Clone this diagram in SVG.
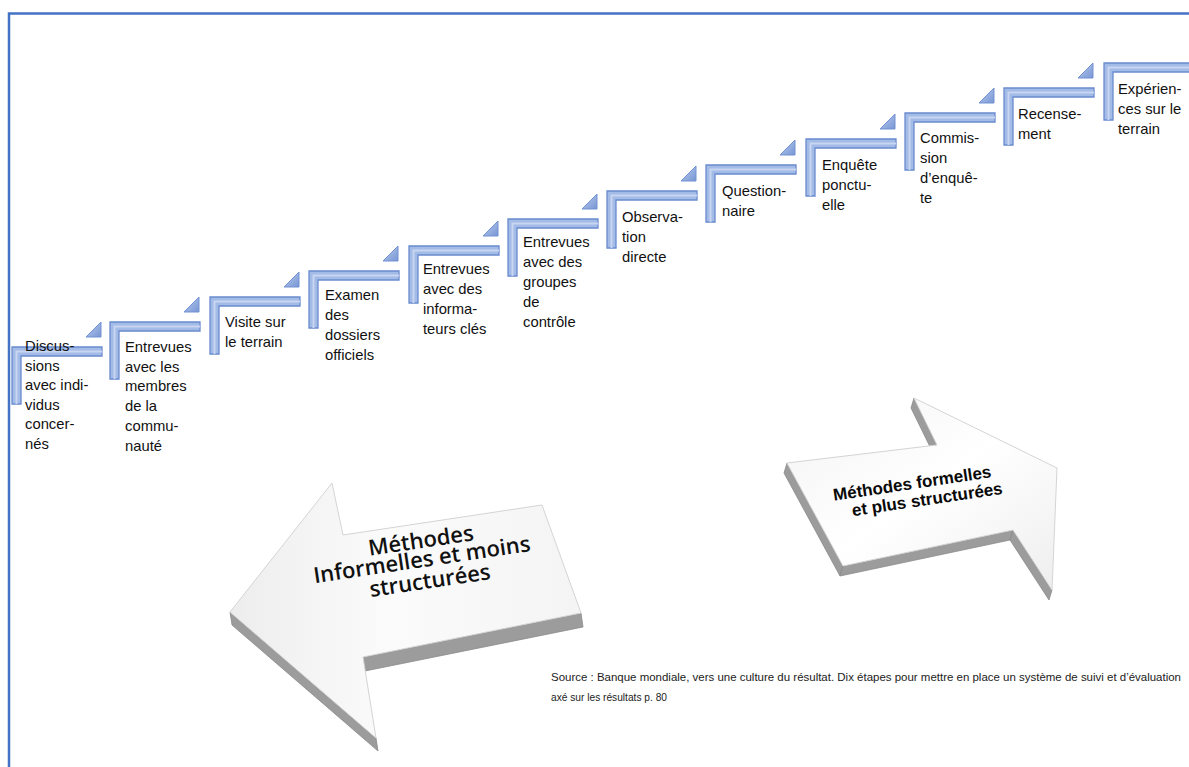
<svg xmlns="http://www.w3.org/2000/svg" xmlns:xlink="http://www.w3.org/1999/xlink" width="1189" height="767" viewBox="0 0 1189 767">
<defs>
<style>
.lbl{font-family:"Liberation Sans",Arial,sans-serif;font-size:14.8px;fill:#111111;}
.frame{stroke:#4472C4;stroke-width:2.5;fill:none;}
.br{fill:#A3BBE7;stroke:#6A8BCE;stroke-width:1.3;}
.brh{fill:none;stroke:#C8D6F2;stroke-width:2;}
.tri{fill:url(#triG);stroke:#7191D1;stroke-width:1;}
.src{font-family:"Liberation Sans",Arial,sans-serif;font-size:11px;fill:#222222;}
.big{font-family:"Open Sans","Liberation Sans",sans-serif;font-weight:600;font-size:22px;fill:#111111;text-anchor:middle;}
.big2{font-family:"Liberation Sans",Arial,sans-serif;font-weight:bold;font-size:17px;fill:#0A0A0A;text-anchor:middle;}
.ext{fill:#9C9C9C;stroke:#8A8A8A;stroke-width:0.8;stroke-linejoin:round;}
.face{stroke:#D4D4D4;stroke-width:1;stroke-linejoin:round;}
</style>
<linearGradient id="triG" x1="0" y1="0" x2="1" y2="1">
<stop offset="0" stop-color="#BCCEF0"/><stop offset="1" stop-color="#7896D4"/>
</linearGradient>
<linearGradient id="faceL" x1="0" y1="0" x2="1" y2="0">
<stop offset="0" stop-color="#EDEDED"/><stop offset="0.45" stop-color="#FBFBFB"/><stop offset="1" stop-color="#F4F4F4"/>
</linearGradient>
<linearGradient id="faceR" x1="0" y1="0" x2="1" y2="1">
<stop offset="0" stop-color="#F3F3F3"/><stop offset="0.5" stop-color="#FFFFFF"/><stop offset="1" stop-color="#EEEEEE"/>
</linearGradient>
<path id="bracket" class="br" d="M0,0 H90 V9 H9 V57 H0 Z"/>
<path id="bracketHi" class="brh" d="M4.5,57 V4.5 H90"/>
<polygon id="tri" class="tri" points="89,-25 89,-10 74,-10"/>
</defs>

<rect x="0" y="0" width="1189" height="767" fill="#FFFFFF"/>
<path class="frame" d="M9,767 V13.5 H1189"/>

<g id="step1">
<use xlink:href="#bracket" x="12" y="347"/><use xlink:href="#bracketHi" x="12" y="347"/><use xlink:href="#tri" x="12" y="347"/>
<text class="lbl" x="25" y="351"><tspan x="25">Discus-</tspan><tspan x="25" dy="19.6">sions</tspan><tspan x="25" dy="19.6">avec indi-</tspan><tspan x="25" dy="19.6">vidus</tspan><tspan x="25" dy="19.6">concer-</tspan><tspan x="25" dy="19.6">nés</tspan></text>
</g>
<g id="step2">
<use xlink:href="#bracket" x="110" y="322"/><use xlink:href="#bracketHi" x="110" y="322"/><use xlink:href="#tri" x="110" y="322"/>
<text class="lbl" x="125" y="352"><tspan x="125">Entrevues</tspan><tspan x="125" dy="19.7">avec les</tspan><tspan x="125" dy="19.7">membres</tspan><tspan x="125" dy="19.7">de la</tspan><tspan x="125" dy="19.7">commu-</tspan><tspan x="125" dy="19.7">nauté</tspan></text>
</g>
<g id="step3">
<use xlink:href="#bracket" x="210" y="297"/><use xlink:href="#bracketHi" x="210" y="297"/><use xlink:href="#tri" x="210" y="297"/>
<text class="lbl" x="225" y="327"><tspan x="225">Visite sur</tspan><tspan x="225" dy="20">le terrain</tspan></text>
</g>
<g id="step4">
<use xlink:href="#bracket" x="309" y="271"/><use xlink:href="#bracketHi" x="309" y="271"/><use xlink:href="#tri" x="309" y="271"/>
<text class="lbl" x="325" y="300"><tspan x="325">Examen</tspan><tspan x="325" dy="20">des</tspan><tspan x="325" dy="20">dossiers</tspan><tspan x="325" dy="20">officiels</tspan></text>
</g>
<g id="step5">
<use xlink:href="#bracket" x="409" y="246"/><use xlink:href="#bracketHi" x="409" y="246"/><use xlink:href="#tri" x="409" y="246"/>
<text class="lbl" x="423" y="274"><tspan x="423">Entrevues</tspan><tspan x="423" dy="20">avec des</tspan><tspan x="423" dy="20">informa-</tspan><tspan x="423" dy="20">teurs clés</tspan></text>
</g>
<g id="step6">
<use xlink:href="#bracket" x="508" y="219"/><use xlink:href="#bracketHi" x="508" y="219"/><use xlink:href="#tri" x="508" y="219"/>
<text class="lbl" x="523" y="247"><tspan x="523">Entrevues</tspan><tspan x="523" dy="20">avec des</tspan><tspan x="523" dy="20">groupes</tspan><tspan x="523" dy="20">de</tspan><tspan x="523" dy="20">contrôle</tspan></text>
</g>
<g id="step7">
<use xlink:href="#bracket" x="607" y="191"/><use xlink:href="#bracketHi" x="607" y="191"/><use xlink:href="#tri" x="607" y="191"/>
<text class="lbl" x="622" y="222"><tspan x="622">Observa-</tspan><tspan x="622" dy="20">tion</tspan><tspan x="622" dy="20">directe</tspan></text>
</g>
<g id="step8">
<use xlink:href="#bracket" x="706" y="165"/><use xlink:href="#bracketHi" x="706" y="165"/><use xlink:href="#tri" x="706" y="165"/>
<text class="lbl" x="722" y="196"><tspan x="722">Question-</tspan><tspan x="722" dy="20">naire</tspan></text>
</g>
<g id="step9">
<use xlink:href="#bracket" x="806" y="139"/><use xlink:href="#bracketHi" x="806" y="139"/><use xlink:href="#tri" x="806" y="139"/>
<text class="lbl" x="822" y="170"><tspan x="822">Enquête</tspan><tspan x="822" dy="20">ponctu-</tspan><tspan x="822" dy="20">elle</tspan></text>
</g>
<g id="step10">
<use xlink:href="#bracket" x="905" y="113"/><use xlink:href="#bracketHi" x="905" y="113"/><use xlink:href="#tri" x="905" y="113"/>
<text class="lbl" x="920" y="143"><tspan x="920">Commis-</tspan><tspan x="920" dy="20">sion</tspan><tspan x="920" dy="20">d’enquê-</tspan><tspan x="920" dy="20">te</tspan></text>
</g>
<g id="step11">
<use xlink:href="#bracket" x="1004" y="88"/><use xlink:href="#bracketHi" x="1004" y="88"/><use xlink:href="#tri" x="1004" y="88"/>
<text class="lbl" x="1018" y="119"><tspan x="1018">Recense-</tspan><tspan x="1018" dy="20">ment</tspan></text>
</g>
<g id="step12">
<use xlink:href="#bracket" x="1104" y="63"/><use xlink:href="#bracketHi" x="1104" y="63"/>
<text class="lbl" x="1118" y="94"><tspan x="1118">Expérien-</tspan><tspan x="1118" dy="20">ces sur le</tspan><tspan x="1118" dy="20">terrain</tspan></text>
</g>

<g id="arrow-informal">
<polygon class="ext" points="230,612 376,738 378,751 232,625"/>
<polygon class="ext" points="363,657 581,613 583,627 365,671"/>
<polygon class="face" fill="url(#faceL)" points="230,612 332,483 343,535 542,505 581,613 363,657 376,738"/>
<text class="big" transform="translate(422,548) rotate(-8.5)">Méthodes</text>
<text class="big" transform="translate(423,567) rotate(-8.5)">Informelles et moins</text>
<text class="big" transform="translate(431,588) rotate(-8.5)">structurées</text>
</g>

<g id="arrow-formal">
<polygon class="ext" points="787,463 843,566 840,576 784,473"/>
<polygon class="ext" points="843,566 1013,530 1010,540 840,576"/>
<polygon class="ext" points="1013,530 1052,590 1049,600 1010,540"/>
<polygon class="ext" points="937,445 914,398 911,408 934,455"/>
<polygon class="face" fill="url(#faceR)" points="787,463 937,445 914,398 1057,468 1052,590 1013,530 843,566"/>
<text class="big2" transform="translate(913,489) rotate(-8.5)">Méthodes formelles</text>
<text class="big2" transform="translate(928,505) rotate(-8.5)">et plus structurées</text>
</g>

<g id="source">
<text class="src" x="551" y="681" textLength="630" lengthAdjust="spacingAndGlyphs">Source : Banque mondiale, vers une culture du résultat. Dix étapes pour mettre en place un système de suivi et d’évaluation</text>
<text class="src" x="551" y="701" textLength="116" lengthAdjust="spacingAndGlyphs">axé sur les résultats p. 80</text>
</g>
</svg>
